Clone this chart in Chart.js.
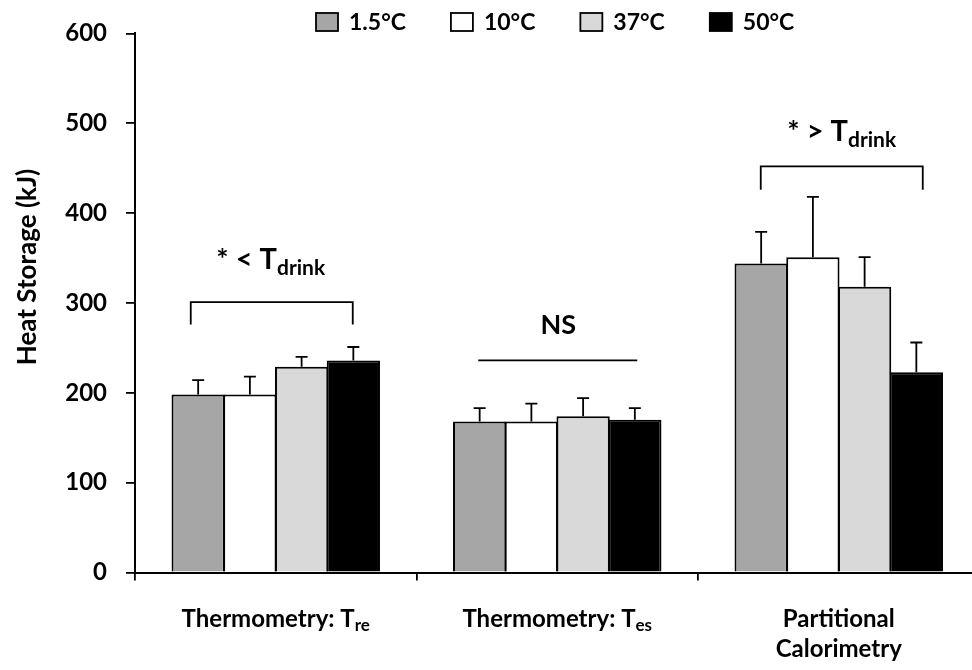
<!DOCTYPE html>
<html>
<head>
<meta charset="utf-8">
<script src="https://cdn.jsdelivr.net/npm/chart.js@4"></script>
<style>
  html, body { margin: 0; padding: 0; background: #fff; overflow: hidden; }
  canvas { display: block; }
</style>
</head>
<body>
<canvas id="heatChart" width="985" height="670"></canvas>
<script>
// categories (x labels drawn by plugin: main text + subscript)
const categories = ['Thermometry: Tre', 'Thermometry: Tes', 'Partitional Calorimetry'];
const xLabelMain = [['Thermometry: T'], ['Thermometry: T'], ['Partitional', 'Calorimetry']];
const xLabelSub = ['re', 'es', ''];

const seriesNames = ['1.5°C', '10°C', '37°C', '50°C'];

// heat storage (kJ), mean and SD
const heat15 = [198, 168, 344];
const heat10 = [198, 168, 351];
const heat37 = [229, 174, 318];
const heat50 = [236, 170, 223];

const sd15 = [16, 15, 35];
const sd10 = [20, 20, 67];
const sd37 = [11, 20, 33];
const sd50 = [15, 13, 33];

const yTicks = [0, 100, 200, 300, 400, 500, 600];

const fills = ['#a6a6a6', '#ffffff', '#d9d9d9', '#000000'];
const means = [heat15, heat10, heat37, heat50];
const sds = [sd15, sd10, sd37, sd50];

const FONT = 'Lato, "Open Sans", sans-serif';

function drawSubText(ctx, cx, baseline, main, sub, mainSize, subSize, drop) {
  ctx.font = 'bold ' + mainSize + 'px ' + FONT;
  const wMain = ctx.measureText(main).width;
  ctx.font = 'bold ' + subSize + 'px ' + FONT;
  const wSub = sub ? ctx.measureText(sub).width : 0;
  const x0 = cx - (wMain + wSub) / 2;
  ctx.textAlign = 'left';
  ctx.textBaseline = 'alphabetic';
  ctx.font = 'bold ' + mainSize + 'px ' + FONT;
  ctx.fillText(main, x0, baseline);
  if (sub) {
    ctx.font = 'bold ' + subSize + 'px ' + FONT;
    ctx.fillText(sub, x0 + wMain, baseline + drop);
  }
}

const extras = {
  id: 'extras',
  afterDatasetsDraw(chart) {
    // error bars (upper only)
    const ctx = chart.ctx, y = chart.scales.y;
    ctx.save();
    ctx.strokeStyle = '#000';
    ctx.lineWidth = 1.8;
    chart.data.datasets.forEach((ds, i) => {
      chart.getDatasetMeta(i).data.forEach((bar, j) => {
        const top = y.getPixelForValue(ds.data[j] + ds.errors[j]);
        ctx.beginPath();
        ctx.moveTo(bar.x, bar.y);
        ctx.lineTo(bar.x, top);
        ctx.moveTo(bar.x - 6, top);
        ctx.lineTo(bar.x + 6, top);
        ctx.stroke();
      });
    });
    ctx.restore();
  },
  afterDraw(chart, args, opts) {
    const ctx = chart.ctx, x = chart.scales.x, y = chart.scales.y;
    ctx.save();
    ctx.fillStyle = '#000';
    ctx.strokeStyle = '#000';

    // legend
    let lx = 316;
    chart.data.datasets.forEach(ds => {
      ctx.lineWidth = 1.8;
      ctx.fillStyle = ds.backgroundColor;
      ctx.fillRect(lx, 13, 22, 18);
      ctx.strokeRect(lx, 13, 22, 18);
      ctx.fillStyle = '#000';
      ctx.font = 'bold 23px ' + FONT;
      ctx.textAlign = 'left';
      ctx.textBaseline = 'alphabetic';
      ctx.fillText(ds.label, lx + 33, 30);
      lx += 33 + ctx.measureText(ds.label).width + 45;
    });

    // y title
    ctx.save();
    ctx.translate(28, 267);
    ctx.rotate(-Math.PI / 2);
    ctx.font = 'bold 26px ' + FONT;
    ctx.textAlign = 'center';
    ctx.textBaseline = 'middle';
    ctx.fillText('Heat Storage (kJ)', 0, 0);
    ctx.restore();

    // x labels
    categories.forEach((c, i) => {
      const cx = x.getPixelForValue(i);
      xLabelMain[i].forEach((line, k) => {
        drawSubText(ctx, cx, 627 + k * 30, line, k === 0 ? xLabelSub[i] : '', 24, 17, 4);
      });
    });

    // brackets and significance notes
    ctx.lineWidth = 1.8;
    opts.notes.forEach(n => {
      const cx = x.getPixelForValue(n.cat);
      const yy = y.getPixelForValue(n.y);
      ctx.beginPath();
      if (n.legY != null) {
        const yl = y.getPixelForValue(n.legY);
        ctx.moveTo(cx + n.left, yl);
        ctx.lineTo(cx + n.left, yy);
        ctx.lineTo(cx + n.right, yy);
        ctx.lineTo(cx + n.right, yl);
      } else {
        ctx.moveTo(cx + n.left, yy);
        ctx.lineTo(cx + n.right, yy);
      }
      ctx.stroke();
      drawSubText(ctx, cx + n.dx, y.getPixelForValue(n.textY), n.text, n.sub, n.size, 21, 6);
    });
    ctx.restore();
  }
};

new Chart(document.getElementById('heatChart'), {
  type: 'bar',
  data: {
    labels: categories,
    datasets: seriesNames.map((name, i) => ({
      label: name,
      data: means[i],
      errors: sds[i],
      backgroundColor: fills[i],
      borderColor: '#000',
      borderWidth: 2,
      inflateAmount: 0,
      barPercentage: 1.03,
      categoryPercentage: 0.735
    }))
  },
  options: {
    responsive: false,
    animation: false,
    layout: { padding: { top: 30, right: 5.5, left: 0, bottom: 0 } },
    plugins: {
      legend: { display: false },
      tooltip: { enabled: false },
      extras: {
        notes: [
          { cat: 0, y: 301, legY: 276, left: -85, right: 77, text: '* < T', sub: 'drink', size: 29, dx: -5, textY: 338 },
          { cat: 1, y: 236, left: -79, right: 80, text: 'NS', sub: '', size: 27, dx: 1, textY: 265 },
          { cat: 2, y: 452, legY: 426, left: -78, right: 84, text: '* > T', sub: 'drink', size: 29, dx: 3, textY: 480.5 }
        ]
      }
    },
    scales: {
      x: {
        grid: { offset: true, drawOnChartArea: false, color: '#000', lineWidth: 1.8, tickLength: 8 },
        border: { color: '#000', width: 2 },
        ticks: { display: false },
        afterFit(s) { s.height = 97.5; }
      },
      y: {
        min: 0,
        max: 600,
        afterBuildTicks(s) { s.ticks = yTicks.map(v => ({ value: v })); },
        ticks: { color: '#000', padding: 19, font: { family: FONT, weight: 'bold', size: 24 } },
        grid: { drawOnChartArea: false, color: '#000', lineWidth: 1.8, tickLength: 9 },
        border: { color: '#000', width: 2 },
        afterFit(s) { s.width = 135; }
      }
    }
  },
  plugins: [extras]
});
</script>
</body>
</html>
